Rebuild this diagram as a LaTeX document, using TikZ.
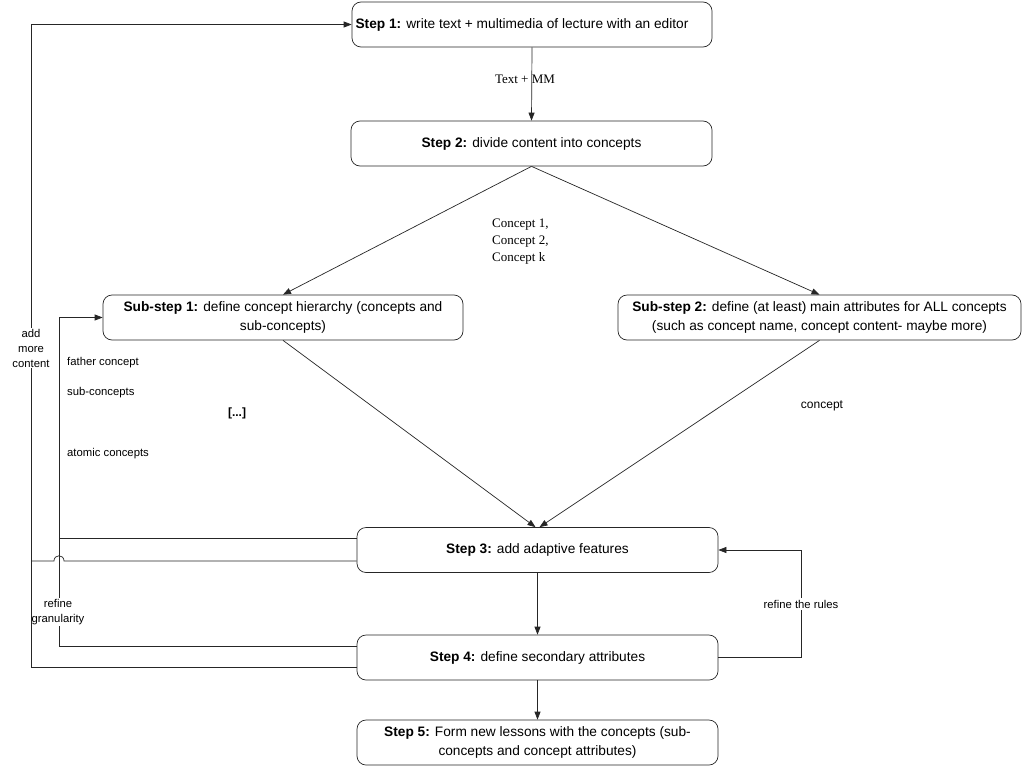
\documentclass[tikz,border=0pt]{standalone}
\usepackage{fontspec}
\setmainfont{Liberation Sans}
\newfontfamily\seriffont{Liberation Serif}
\usetikzlibrary{arrows.meta,calc}
\begin{document}
\begin{tikzpicture}[x=1pt,y=-1pt,
  box/.style={draw=black!85,line width=0.7pt,rounded corners=9pt,inner sep=0pt,
    minimum height=45pt,align=center,font=\fontsize{13.7}{19}\selectfont},
  conn/.style={draw=black!85,line width=0.7pt},
  arr/.style={conn,-{Triangle[length=8pt,width=6pt]}},
  lbl/.style={font=\fontsize{11.3}{15}\selectfont,align=center,inner sep=1pt},
  slbl/.style={font=\seriffont\fontsize{13}{17}\selectfont,align=left,inner sep=0pt}]
\useasboundingbox (0,0) rectangle (1024,768);
\fill[white] (0,0) rectangle (1024,768);

\node[box,minimum width=360pt] (s1) at (532,24.5) {\textbf{Step 1:} write text + multimedia of lecture with an editor\hspace{20pt}};
\node[box,minimum width=361pt] (s2) at (531.5,143.5) {\textbf{Step 2:} divide content into concepts};
\node[box,minimum width=360pt] (ss1) at (283,317.5) {\textbf{Sub-step 1:} define concept hierarchy (concepts and\\sub-concepts)};
\node[box,minimum width=403pt] (ss2) at (819.5,317.5) {\textbf{Sub-step 2:} define (at least) main attributes for ALL concepts\\(such as concept name, concept content- maybe more)};
\node[box,minimum width=361pt] (s3) at (537.5,550) {\textbf{Step 3:} add adaptive features};
\node[box,minimum width=361pt] (s4) at (537.5,657.5) {\textbf{Step 4:} define secondary attributes};
\node[box,minimum width=361pt] (s5) at (537.5,742.5) {\textbf{Step 5:} Form new lessons with the concepts (sub-\\concepts and concept attributes)};

% main flow
\draw[arr] (s1.south) -- (s2.north);
\node[slbl] (tmm) at (525,79) {Text + MM};
\draw[arr] (s2.south) -- (ss1.north);
\draw[arr] (s2.south) -- (ss2.north);
\node[slbl,anchor=north west] (clist) at (492,219) {Concept 1,\\Concept 2,\\Concept k};
\draw[arr] (ss1.south) -- ([xshift=-2pt]s3.north);
\draw[arr] (ss2.south) -- ([xshift=2pt]s3.north);
\draw[arr] (s3.south) -- (s4.north);
\draw[arr] (s4.south) -- (s5.north);

% labels
\node[lbl,anchor=west] (fc) at (66,363) {father concept};
\node[lbl,anchor=west] (sc) at (66,393) {sub-concepts};
\node[lbl,anchor=west] (ac) at (66,454) {atomic concepts};
\node[lbl,font=\bfseries\fontsize{12}{14}\selectfont] (dots) at (237,413) {[...]};
\node[lbl,font=\fontsize{12}{15}\selectfont] (cpt) at (822,406) {concept};

% refine the rules
\coordinate (rr) at (801,604);
\draw[arr] (s4.east) -- (801,657.5) -- (801,550) -- (s3.east);
\node[lbl,fill=white,inner sep=2pt] (rrl) at (rr) {refine the rules};

% refine granularity
\coordinate (g4) at ([yshift=11.5pt]s4.west);
\coordinate (g3) at ([yshift=12pt]s3.west);
\draw[arr] (g4) -- (59,646) -- (59,317.5) -- (ss1.west);
\draw[conn] (g3) -- (59,538);
\node[lbl,fill=white,inner sep=1pt] (rg) at (58,612) {refine\\granularity};

% add more content
\coordinate (a4) at ([yshift=-9.5pt]s4.west);
\coordinate (a3) at ([yshift=-11pt]s3.west);
\draw[arr] (a4) -- (31,667) -- (31,24.5) -- (s1.west);
\draw[conn] (a3) -- (64,561) .. controls (64,554) and (54,554) .. (54,561) -- (31,561);
\node[lbl,fill=white,inner sep=1pt] (amc) at (31,348) {add\\more\\content};
\end{tikzpicture}
\end{document}
